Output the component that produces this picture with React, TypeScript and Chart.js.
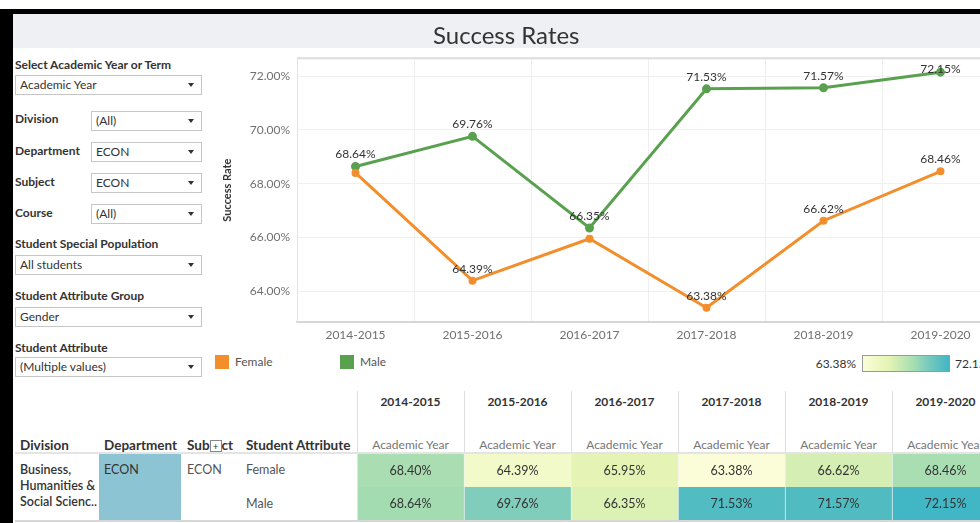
import React, { useEffect, useRef } from "react";
import { Chart, registerables } from "chart.js";
Chart.register(...registerables);

const FONT = "Lato, 'Open Sans', sans-serif";

const years = ["2014-2015", "2015-2016", "2016-2017", "2017-2018", "2018-2019", "2019-2020"];
const attributes = ["Female", "Male"];
const femaleRates = [68.40, 64.39, 65.95, 63.38, 66.62, 68.46];
const maleRates = [68.64, 69.76, 66.35, 71.53, 71.57, 72.15];
const femaleLabelShown = [false, true, false, true, true, true];
const maleLabelShown = [true, true, true, true, true, true];
const yTickValues = [64, 66, 68, 70, 72];
const yMin = 62.85;
const yMax = 72.67;
const colorMin = 63.38;
const colorMax = 72.15;

const lineColors = ["#f28e2b", "#59a14f"];

// color scale stops (fraction, r, g, b)
const colorStops: [number, number, number, number][] = [
  [0, 251, 253, 216],
  [0.3, 228, 244, 180],
  [0.6, 164, 220, 178],
  [0.73, 127, 205, 187],
  [1, 65, 182, 196],
];

function colorAt(t: number) {
  t = Math.max(0, Math.min(1, t));
  for (let i = 0; i < colorStops.length - 1; i++) {
    const a = colorStops[i], b = colorStops[i + 1];
    if (t <= b[0]) {
      const f = (t - a[0]) / (b[0] - a[0]);
      const r = Math.round(a[1] + (b[1] - a[1]) * f);
      const g = Math.round(a[2] + (b[2] - a[2]) * f);
      const bl = Math.round(a[3] + (b[3] - a[3]) * f);
      return `rgb(${r},${g},${bl})`;
    }
  }
  const l = colorStops[colorStops.length - 1];
  return `rgb(${l[1]},${l[2]},${l[3]})`;
}
const colorFor = (v: number) => colorAt((v - colorMin) / (colorMax - colorMin));

function LineChart() {
  const ref = useRef<HTMLCanvasElement>(null);
  useEffect(() => {
    const labelPlugin = {
      id: "ptLabels",
      afterDatasetsDraw(chart: any) {
        const ctx = chart.ctx;
        const area = chart.chartArea;
        ctx.save();
        ctx.font = `12px ${FONT}`;
        ctx.fillStyle = "#333";
        ctx.textAlign = "center";
        ctx.textBaseline = "middle";
        chart.data.datasets.forEach((ds: any, di: number) => {
          const meta = chart.getDatasetMeta(di);
          const shown = di === 0 ? femaleLabelShown : maleLabelShown;
          meta.data.forEach((el: any, i: number) => {
            if (!shown[i]) return;
            const y = Math.max(el.y - 12, area.top + 11);
            ctx.fillText(ds.data[i].toFixed(2) + "%", el.x, y);
          });
        });
        ctx.restore();
      },
    };
    const topBorder = {
      id: "topBorder",
      beforeDatasetsDraw(chart: any) {
        const { ctx, chartArea: a } = chart;
        ctx.save();
        ctx.strokeStyle = "#dddddd";
        ctx.lineWidth = 2;
        ctx.beginPath();
        ctx.moveTo(a.left, a.top);
        ctx.lineTo(a.right, a.top);
        ctx.stroke();
        ctx.restore();
      },
    };
    const chart = new Chart(ref.current!, {
      type: "line",
      data: {
        labels: years,
        datasets: [
          {
            label: "Female",
            data: femaleRates,
            borderColor: lineColors[0],
            backgroundColor: lineColors[0],
            borderWidth: 3,
            pointRadius: 2.5,
            pointHoverRadius: 2.5,
            tension: 0,
          },
          {
            label: "Male",
            data: maleRates,
            borderColor: lineColors[1],
            backgroundColor: lineColors[1],
            borderWidth: 3,
            pointRadius: 3,
            pointHoverRadius: 3,
            tension: 0,
          },
        ],
      },
      options: {
        animation: false,
        responsive: false,
        layout: { padding: { top: 0, right: 6, left: 0, bottom: 0 } },
        plugins: { legend: { display: false }, tooltip: { enabled: false } },
        scales: {
          x: {
            offset: true,
            grid: { offset: true, color: "#eeeeee", drawTicks: false },
            border: { color: "#d6d6d6", width: 2 },
            ticks: { color: "#707070", font: { family: FONT, size: 12 }, padding: 6 },
            afterFit(scale: any) {
              scale.height = 23;
            },
          },
          y: {
            min: yMin,
            max: yMax,
            grid: { color: "#f0f0f0", drawTicks: false },
            border: { color: "#e2e2e2", width: 1 },
            ticks: {
              color: "#707070",
              font: { family: FONT, size: 12 },
              padding: 7,
              callback: (v: any) => Number(v).toFixed(2) + "%",
            },
            afterBuildTicks(scale: any) {
              scale.ticks = yTickValues.map((v) => ({ value: v }));
            },
            afterFit(scale: any) {
              scale.width = 82;
            },
            title: {
              display: true,
              text: "Success Rate",
              color: "#333",
              font: { family: FONT, size: 11, weight: "bold" },
              padding: { top: 6, bottom: 0 },
            },
          },
        },
      },
      plugins: [topBorder, labelPlugin],
    } as any);
    return () => chart.destroy();
  }, []);
  return (
    <canvas
      ref={ref}
      width={790}
      height={301}
      style={{ position: "absolute", left: 215, top: 44, width: 790, height: 301 }}
    />
  );
}

function HeatChart() {
  const ref = useRef<HTMLCanvasElement>(null);
  useEffect(() => {
    const rows = [maleRates, femaleRates]; // bottom to top
    const textPlugin = {
      id: "cellText",
      afterDatasetsDraw(chart: any) {
        const ctx = chart.ctx;
        ctx.save();
        ctx.font = `12.5px ${FONT}`;
        ctx.fillStyle = "#333";
        ctx.textAlign = "center";
        ctx.textBaseline = "middle";
        chart.data.datasets.forEach((ds: any, di: number) => {
          const meta = chart.getDatasetMeta(di);
          meta.data.forEach((el: any, i: number) => {
            ctx.fillText(rows[di][i].toFixed(2) + "%", el.x, (el.y + el.base) / 2);
          });
        });
        ctx.restore();
      },
    };
    const chart = new Chart(ref.current!, {
      type: "bar",
      data: {
        labels: years,
        datasets: rows.map((vals, di) => ({
          label: di === 0 ? attributes[1] : attributes[0],
          data: vals.map(() => 1),
          backgroundColor: vals.map(colorFor),
          borderColor: "#f2f2f2",
          borderWidth: { left: 1, right: 0, top: 0, bottom: 0 },
          borderSkipped: false,
          barPercentage: 1,
          categoryPercentage: 1,
        })),
      },
      options: {
        animation: false,
        responsive: false,
        layout: { padding: 0 },
        plugins: { legend: { display: false }, tooltip: { enabled: false } },
        scales: {
          x: { display: false, stacked: true },
          y: { display: false, stacked: true, min: 0, max: 2 },
        },
      },
      plugins: [textPlugin],
    } as any);
    return () => chart.destroy();
  }, []);
  return (
    <canvas
      ref={ref}
      width={642}
      height={66}
      style={{ position: "absolute", left: 357, top: 454, width: 642, height: 66 }}
    />
  );
}

const T = ({ x, y, children, style }: any) => (
  <div
    style={{
      position: "absolute",
      left: x,
      top: y - 9,
      lineHeight: "18px",
      whiteSpace: "nowrap",
      fontSize: 12,
      color: "#333",
      ...style,
    }}
  >
    {children}
  </div>
);

const Dropdown = ({ x, y, w, h = 20, text }: any) => (
  <div
    style={{
      position: "absolute",
      left: x,
      top: y,
      width: w - 2,
      height: h - 2,
      border: "1px solid #c6c6c6",
      background: "#fff",
    }}
  >
    <div
      style={{
        position: "absolute",
        left: 4,
        top: 0,
        lineHeight: `${h - 2}px`,
        fontSize: 12,
        color: "#333",
        whiteSpace: "nowrap",
      }}
    >
      {text}
    </div>
    <div
      style={{
        position: "absolute",
        right: 7,
        top: (h - 2) / 2 - 2,
        width: 0,
        height: 0,
        borderLeft: "3.5px solid transparent",
        borderRight: "3.5px solid transparent",
        borderTop: "4px solid #333",
      }}
    />
  </div>
);

const colLeft = 357;
const colW = 107;
const hdr = { fontWeight: "bold", fontSize: 13.5 };

export default function App() {
  const gradient = `linear-gradient(to right, ${colorStops
    .map((s) => `${colorAt(s[0])} ${s[0] * 100}%`)
    .join(", ")})`;
  return (
    <div
      style={{
        position: "fixed",
        left: 0,
        top: 0,
        width: 980,
        height: 523,
        overflow: "hidden",
        background: "#fff",
        fontFamily: FONT,
      }}
    >
      {/* frame */}
      <div style={{ position: "absolute", left: 0, top: 9, width: 980, height: 5, background: "#000" }} />
      <div style={{ position: "absolute", left: 0, top: 9, width: 13, height: 520, background: "#000" }} />
      {/* title band */}
      <div style={{ position: "absolute", left: 13, top: 14, width: 967, height: 34, background: "#eff0f4" }} />

      {/* filters */}
      <T x={15} y={65} style={{ fontWeight: "bold" }}>Select Academic Year or Term</T>
      <Dropdown x={15} y={75} w={187} text="Academic Year" />
      <T x={15} y={119} style={{ fontWeight: "bold" }}>Division</T>
      <Dropdown x={91} y={111} w={111} text="(All)" />
      <T x={15} y={151} style={{ fontWeight: "bold" }}>Department</T>
      <Dropdown x={91} y={142} w={111} text="ECON" />
      <T x={15} y={182} style={{ fontWeight: "bold" }}>Subject</T>
      <Dropdown x={91} y={173} w={111} text="ECON" />
      <T x={15} y={213} style={{ fontWeight: "bold" }}>Course</T>
      <Dropdown x={91} y={204} w={111} text="(All)" />
      <T x={15} y={244} style={{ fontWeight: "bold" }}>Student Special Population</T>
      <Dropdown x={15} y={255} w={187} text="All students" />
      <T x={15} y={296} style={{ fontWeight: "bold" }}>Student Attribute Group</T>
      <Dropdown x={15} y={307} w={187} text="Gender" />
      <T x={15} y={348} style={{ fontWeight: "bold" }}>Student Attribute</T>
      <Dropdown x={15} y={357} w={187} text="(Multiple values)" />

      <LineChart />

      {/* title drawn above chart canvas */}
      <T x={433} y={35} style={{ fontSize: 24, color: "#333", lineHeight: "28px", top: 21 }}>
        Success Rates
      </T>

      {/* legend */}
      <div style={{ position: "absolute", left: 215, top: 355, width: 14, height: 14, background: lineColors[0] }} />
      <T x={235} y={362} style={{ color: "#555" }}>{attributes[0]}</T>
      <div style={{ position: "absolute", left: 340, top: 355, width: 14, height: 14, background: lineColors[1] }} />
      <T x={360} y={362} style={{ color: "#555" }}>{attributes[1]}</T>

      {/* color legend */}
      <T x={780} y={364} style={{ width: 76, textAlign: "right" }}>{colorMin.toFixed(2)}%</T>
      <div
        style={{
          position: "absolute",
          left: 862,
          top: 355,
          width: 86,
          height: 15,
          border: "1px solid #9a9a9a",
          background: gradient,
        }}
      />
      <T x={955} y={364}>{colorMax.toFixed(2)}%</T>

      {/* table headers */}
      {years.map((yr, i) => (
        <React.Fragment key={yr}>
          <div
            style={{
              position: "absolute",
              left: colLeft + i * colW,
              top: 391,
              width: 1,
              height: 62,
              background: "#dedede",
            }}
          />
          <T x={colLeft + i * colW} y={402} style={{ width: colW, textAlign: "center", fontWeight: "bold" }}>
            {yr}
          </T>
          <T x={colLeft + i * colW} y={445} style={{ width: colW, textAlign: "center", color: "#777" }}>
            Academic Year
          </T>
        </React.Fragment>
      ))}
      <T x={20} y={445} style={hdr}>Division</T>
      <T x={104} y={445} style={hdr}>Department</T>
      <T x={187} y={445} style={hdr}>
        Sub
        <span
          style={{
            display: "inline-block",
            width: 10,
            height: 10,
            border: "1px solid #888",
            fontSize: 10,
            lineHeight: "10px",
            textAlign: "center",
            fontWeight: "normal",
            verticalAlign: "middle",
            marginTop: -2,
            background: "#fff",
          }}
        >
          +
        </span>
        ct
      </T>
      <T x={246} y={445} style={hdr}>Student Attribute</T>
      <div style={{ position: "absolute", left: 15, top: 452, width: 965, height: 2, background: "#e4e4e4" }} />

      {/* row headers */}
      <div style={{ position: "absolute", left: 20, top: 462, lineHeight: "16px", fontSize: 12.5, color: "#333", fontWeight: 600 }}>
        Business,
        <br />
        Humanities &amp;
        <br />
        Social Scienc..
      </div>
      <div style={{ position: "absolute", left: 99, top: 454, width: 82, height: 66, background: "#8cc4d4" }} />
      <T x={104} y={470} style={{ fontSize: 12.5 }}>ECON</T>
      <T x={187} y={470} style={{ color: "#555", fontSize: 12.5 }}>ECON</T>
      <T x={246} y={470} style={{ color: "#555", fontSize: 12.5 }}>{attributes[0]}</T>
      <T x={246} y={504} style={{ color: "#555", fontSize: 12.5 }}>{attributes[1]}</T>

      <HeatChart />
      <div style={{ position: "absolute", left: 15, top: 520, width: 965, height: 2, background: "#d6d6d6" }} />
    </div>
  );
}
